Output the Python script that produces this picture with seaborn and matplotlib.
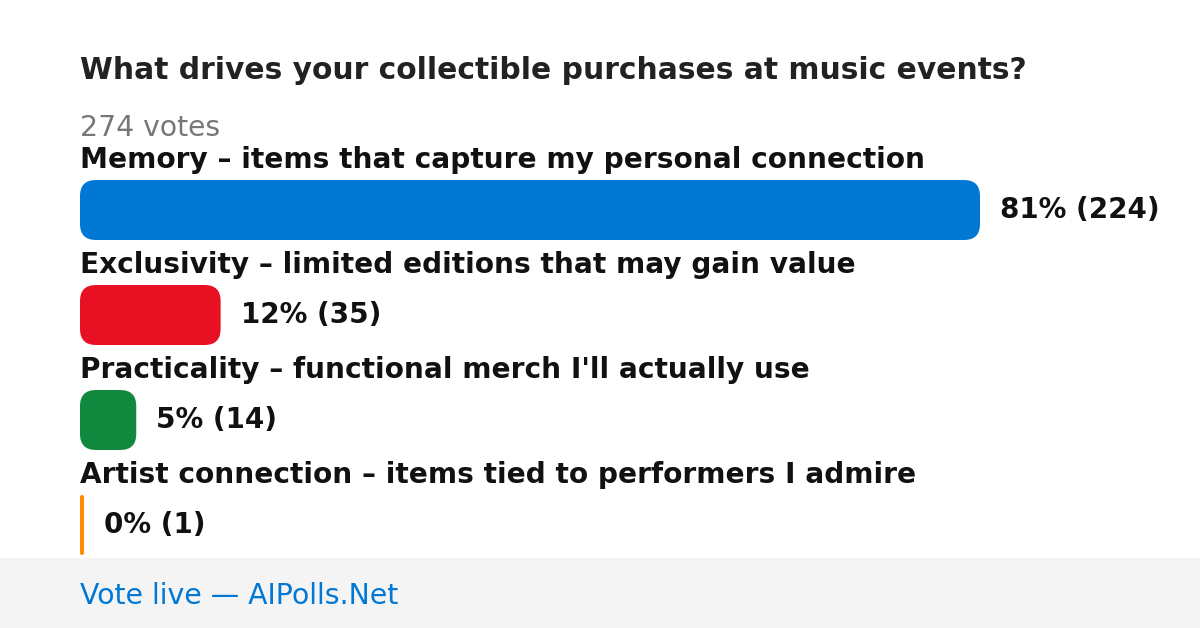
import matplotlib
matplotlib.use("Agg")
import matplotlib.pyplot as plt
import seaborn as sns
import pandas as pd
from matplotlib.patches import FancyBboxPatch, Rectangle

title = "What drives your collectible purchases at music events?"
total_votes = 274
options = [
    "Memory – items that capture my personal connection",
    "Exclusivity – limited editions that may gain value",
    "Practicality – functional merch I'll actually use",
    "Artist connection – items tied to performers I admire",
]
votes = [224, 35, 14, 1]
percents = [81, 12, 5, 0]
colors = ["#0078D4", "#E81123", "#10893E", "#FF8C00"]
footer = "Vote live — AIPolls.Net"

sns.set_theme(style="white")
plt.rcParams["font.family"] = ["DejaVu Sans"]

W, H, DPI = 1200, 628, 100
fig = plt.figure(figsize=(W / DPI, H / DPI), dpi=DPI)
fig.patch.set_facecolor("white")

# footer band
fig.add_artist(Rectangle((0, 0), 1, 70 / H, transform=fig.transFigure,
                         facecolor="#F4F4F4", edgecolor="none", zorder=0))

# axes: x from 80px to 980px; category rows centered at 210,315,420,525px
row = 105
top_px = 210 - row / 2
bot_px = 525 + row / 2
ax = fig.add_axes([80 / W, 1 - bot_px / H, 900 / W, (bot_px - top_px) / H])
ax.patch.set_alpha(0)

df = pd.DataFrame({"option": options, "votes": votes})
sns.barplot(data=df, x="votes", y="option", hue="option", palette=colors,
            saturation=1, legend=False, ax=ax, width=60 / row, orient="h")
ax.set_xlim(0, max(votes))
ax.set_ylim(len(options) - 0.5, -0.5)
ax.axis("off")

fig.canvas.draw()
r_max = 16
for i, p in enumerate(list(ax.patches)):
    bb = p.get_window_extent()
    x0, y0, w, h = bb.x0, bb.y0, bb.width, bb.height
    w = max(w, 4)
    r = min(r_max, w / 2, h / 2)
    fb = FancyBboxPatch((x0, y0), w, h,
                        boxstyle=f"round,pad=0,rounding_size={r}",
                        transform=None, facecolor=p.get_facecolor(),
                        edgecolor="none", zorder=3)
    fig.add_artist(fb)
    p.set_visible(False)
    cy_top = H - (y0 + h / 2)  # bar center in px from top
    fig.text((x0 + w + 20) / W, 1 - (cy_top + 8) / H,
             f"{percents[i]}% ({votes[i]})",
             fontsize=20, fontweight="bold", color="#111111",
             ha="left", va="baseline")
    fig.text(80 / W, 1 - (cy_top - 42) / H, options[i],
             fontsize=20.2, fontweight="bold", color="#111111",
             ha="left", va="baseline")

fig.text(80 / W, 1 - 79 / H, title, fontsize=21.4, fontweight="bold",
         color="#222222", ha="left", va="baseline")
fig.text(80 / W, 1 - 136 / H, f"{total_votes} votes", fontsize=20.3,
         color="#777777", ha="left", va="baseline")
fig.text(80 / W, 1 - 604 / H, footer, fontsize=20.4, color="#0078D4",
         ha="left", va="baseline")

fig.savefig("out.png", dpi=DPI, facecolor=fig.get_facecolor())
